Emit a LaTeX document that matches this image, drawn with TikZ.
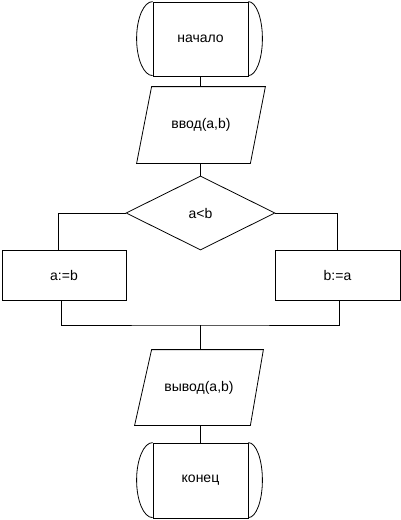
\documentclass[tikz,border=0pt]{standalone}
\usepackage{fontspec}
\setmainfont{Liberation Sans}
\usetikzlibrary{shapes.geometric,calc}
\begin{document}
\begin{tikzpicture}[x=1pt,y=-1pt,line width=0.8pt,
  every node/.style={font=\fontsize{14}{16}\selectfont,inner sep=0pt},
  term/.style={draw,rectangle,minimum width=95pt,minimum height=74pt},
  io/.style={rectangle,minimum width=128pt,minimum height=76pt},
  proc/.style={draw,rectangle,minimum width=124pt,minimum height=50pt},
  cond/.style={draw,diamond,minimum width=149pt,minimum height=74pt}]
\useasboundingbox (0,0) rectangle (401,520);
% terminals
\node[term] (s) at (200.5,39) {начало};
\draw (s.north west) arc[start angle=90,end angle=270,x radius=16pt,y radius=37pt];
\draw (s.north east) arc[start angle=90,end angle=-90,x radius=14pt,y radius=37pt];
\node[term,minimum height=75pt] (e) at (200.5,480.5) {конец};
\draw (e.north west) arc[start angle=90,end angle=270,x radius=16pt,y radius=37.5pt];
\draw (e.north east) arc[start angle=90,end angle=-90,x radius=14pt,y radius=37.5pt];
% input / output
\node[io] (in) at (201,125) {ввод(a,b)};
\draw ($(in.north west)+(15,0)$) -- (in.north east) -- ($(in.south east)+(-15,0)$) -- (in.south west) -- cycle;
\node[io,minimum height=75pt] (out) at (199,387.5) {вывод(a,b)};
\draw ($(out.north west)+(17,0)$) -- (out.north east) -- ($(out.south east)+(-13,0)$) -- (out.south west) -- cycle;
% condition
\node[cond] (d) at (200.5,213) {a<b};
% processes
\node[proc] (a) at (64,275) {a:=b};
\node[proc,minimum width=125pt] (b) at (337.5,275) {b:=a};
% connectors
\draw (s.south) -- (s.south |- in.north);
\draw (d.north |- in.south) -- (d.north);
\draw (d.west) -| ($(a.north)+(-6,0)$);
\draw (d.east) -| (b.north);
\coordinate (m) at (200.5,325);
\draw ($(a.south)+(-3,0)$) |- (m) -| ($(b.south)+(2,0)$);
\draw (m) -- (m |- out.north);
\draw (e.north |- out.south) -- (e.north);
\end{tikzpicture}
\end{document}
